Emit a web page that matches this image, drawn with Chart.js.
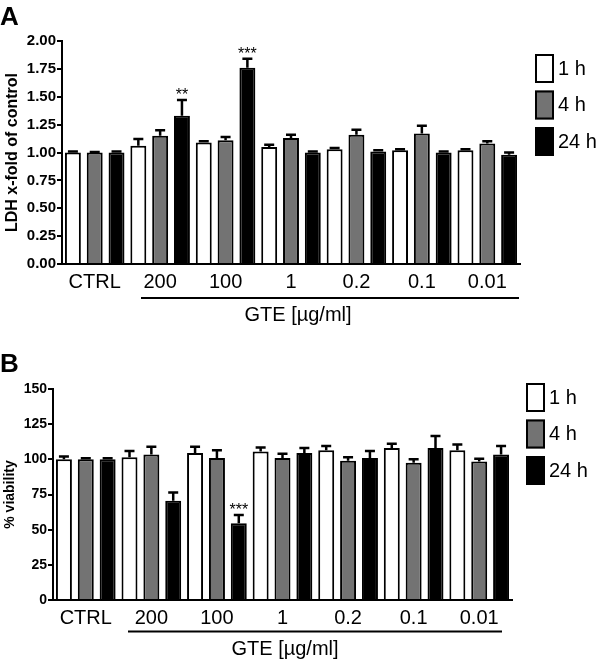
<!DOCTYPE html>
<html>
<head>
<meta charset="utf-8">
<script src="https://cdn.jsdelivr.net/npm/chart.js@4.4.0/dist/chart.umd.min.js"></script>
<style>
  html, body { margin: 0; padding: 0; background: #fff; }
  .panel { position: relative; width: 600px; }
  #wrapA { height: 330px; }
  #wrapB { height: 331px; }
  canvas { display: block; }
</style>
</head>
<body>
<div class="panel" id="wrapA"><canvas id="chartA"></canvas></div>
<div class="panel" id="wrapB"><canvas id="chartB"></canvas></div>
<script>
const groups = ['CTRL', '200', '100', '1', '0.2', '0.1', '0.01'];
const times = ['1 h', '4 h', '24 h'];
const fills = ['#ffffff', '#737373', '#000000'];

// panel A: LDH release, x-fold of control
const ldh1h  = [1.00, 1.06, 1.09, 1.05, 1.03, 1.02, 1.02];
const ldh4h  = [1.00, 1.15, 1.11, 1.13, 1.16, 1.17, 1.08];
const ldh24h = [1.00, 1.33, 1.76, 1.00, 1.01, 1.00, 0.98];
const ldhErr1h  = [0.01, 0.06, 0.01, 0.02, 0.01, 0.01, 0.01];
const ldhErr4h  = [0.005, 0.05, 0.03, 0.03, 0.045, 0.07, 0.02];
const ldhErr24h = [0.01, 0.14, 0.08, 0.01, 0.01, 0.01, 0.02];
const ldhStars24h = ['', '**', '***', '', '', '', ''];
const ldhTicks = [0, 0.25, 0.5, 0.75, 1.0, 1.25, 1.5, 1.75, 2.0];

// panel B: % viability
const via1h  = [100, 101.5, 104.5, 105.5, 106.5, 108, 106.5];
const via4h  = [100, 103.5, 101, 101, 99, 97.5, 98.5];
const via24h = [100, 70.5, 54.5, 104.5, 101, 108, 103.5];
const viaErr1h  = [2, 4.5, 4.5, 3, 3, 3, 4];
const viaErr4h  = [0.8, 5.5, 5.5, 3, 2.5, 2.5, 2];
const viaErr24h = [0.8, 6, 6, 3.5, 5, 8.5, 6];
const viaStars24h = ['', '', '***', '', '', '', ''];
const viaTicks = [0, 25, 50, 75, 100, 125, 150];

const FONT = "'Liberation Sans', Arial, Helvetica, sans-serif";

// error bars, stars, legend, panel letter and the GTE bracket
const decor = {
  id: 'decor',
  afterDatasetsDraw(chart, args, o) {
    const ctx = chart.ctx;
    const y = chart.scales.y;
    ctx.save();
    ctx.strokeStyle = '#000';
    ctx.lineWidth = 2.5;
    chart.data.datasets.forEach((ds, d) => {
      const meta = chart.getDatasetMeta(d);
      meta.data.forEach((bar, i) => {
        const top = y.getPixelForValue(ds.data[i] + ds.errors[i]);
        ctx.beginPath();
        ctx.moveTo(bar.x, bar.y);
        ctx.lineTo(bar.x, top);
        ctx.moveTo(bar.x - 5, top);
        ctx.lineTo(bar.x + 5, top);
        ctx.stroke();
        const s = ds.stars ? ds.stars[i] : '';
        if (s) {
          ctx.fillStyle = '#000';
          ctx.font = '16px ' + FONT;
          ctx.textAlign = 'center';
          ctx.textBaseline = 'alphabetic';
          ctx.fillText(s, bar.x, top);
        }
      });
    });
    ctx.restore();
  },
  afterDraw(chart, args, o) {
    const ctx = chart.ctx;
    const area = chart.chartArea;
    ctx.save();
    ctx.fillStyle = '#000';
    ctx.font = 'bold 26px ' + FONT;
    ctx.textAlign = 'left';
    ctx.textBaseline = 'alphabetic';
    ctx.fillText(o.letter, 0, o.letterY);

    // legend
    chart.data.datasets.forEach((ds, k) => {
      const bx = area.right + o.legendDx;
      const by = o.legendTop + k * 36.5;
      ctx.fillStyle = ds.backgroundColor;
      ctx.fillRect(bx, by, 19, 29);
      ctx.strokeStyle = '#000';
      ctx.lineWidth = 2;
      ctx.strokeRect(bx + 1, by + 1, 17, 27);
      ctx.fillStyle = '#000';
      ctx.font = '20px ' + FONT;
      ctx.textBaseline = 'middle';
      ctx.fillText(ds.label, bx + 23, by + 15);
    });

    // bracket under the GTE groups
    ctx.strokeStyle = '#000';
    ctx.lineWidth = 2;
    ctx.beginPath();
    ctx.moveTo(o.lineX0, o.lineY);
    ctx.lineTo(o.lineX1, o.lineY);
    ctx.stroke();
    ctx.font = '20px ' + FONT;
    ctx.textAlign = 'center';
    ctx.textBaseline = 'alphabetic';
    ctx.fillText('GTE [µg/ml]', o.textX, o.textY);
    ctx.restore();
  }
};

function panel(id, o) {
  const datasets = times.map((t, k) => ({
    label: t,
    data: o.values[k],
    errors: o.errors[k],
    stars: k === 2 ? o.stars : null,
    backgroundColor: fills[k],
    borderColor: '#000',
    borderWidth: 2,
    borderSkipped: 'start',
    barPercentage: 0.73,
    categoryPercentage: 1.0
  }));

  return new Chart(document.getElementById(id), {
    type: 'bar',
    data: { labels: groups, datasets },
    options: {
      responsive: true,
      maintainAspectRatio: false,
      animation: false,
      layout: { padding: { top: o.top, right: o.right, bottom: 0, left: 0 } },
      plugins: {
        legend: { display: false },
        tooltip: { enabled: false },
        decor: o.decor
      },
      scales: {
        x: {
          grid: { display: false, drawTicks: false },
          border: { display: true, color: '#000', width: 2 },
          ticks: { color: '#000', font: { family: FONT, size: 20 }, padding: 6, maxRotation: 0, autoSkip: false },
          afterFit: s => { s.height = o.xh; }
        },
        y: {
          min: 0,
          max: o.ticks[o.ticks.length - 1],
          afterBuildTicks: s => { s.ticks = o.ticks.map(v => ({ value: v })); },
          ticks: {
            color: '#000',
            font: { family: FONT, size: o.tickSize, weight: 'bold' },
            padding: 1,
            callback: v => o.fmt(v)
          },
          grid: { display: true, drawOnChartArea: false, drawTicks: true, tickLength: 5, color: '#000', lineWidth: 2 },
          border: { display: true, color: '#000', width: 2 },
          title: {
            display: true,
            text: o.title,
            color: '#000',
            font: { family: FONT, size: o.titleSize, weight: 'bold' },
            padding: { top: o.titlePad, bottom: 0 }
          },
          afterFit: s => { s.width = o.yw; }
        }
      }
    },
    plugins: [decor]
  });
}

panel('chartA', {
  values: [ldh1h, ldh4h, ldh24h],
  errors: [ldhErr1h, ldhErr4h, ldhErr24h],
  stars: ldhStars24h,
  ticks: ldhTicks,
  fmt: v => v.toFixed(2),
  title: 'LDH x-fold of control',
  titleSize: 16,
  titlePad: 3,
  tickSize: 15,
  top: 41, right: 80, xh: 66, yw: 62,
  decor: { letter: 'A', letterY: 25, legendDx: 15, legendTop: 54,
           lineX0: 141, lineX1: 519, lineY: 298, textX: 298, textY: 321 }
});

panel('chartB', {
  values: [via1h, via4h, via24h],
  errors: [viaErr1h, viaErr4h, viaErr24h],
  stars: viaStars24h,
  ticks: viaTicks,
  fmt: v => String(v),
  title: '% viability',
  titleSize: 14,
  titlePad: 2,
  tickSize: 14,
  top: 59, right: 88, xh: 61, yw: 53,
  decor: { letter: 'B', letterY: 42, legendDx: 14, legendTop: 53,
           lineX0: 128, lineX1: 502, lineY: 301.5, textX: 285, textY: 325 }
});
</script>
</body>
</html>
